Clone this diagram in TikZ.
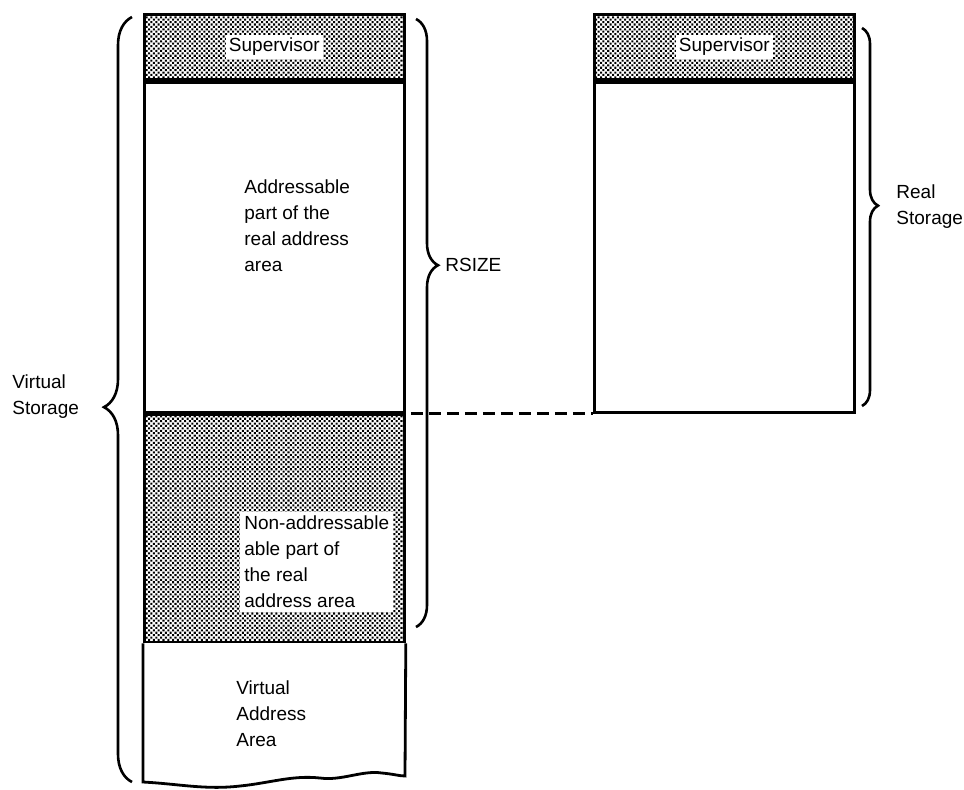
\documentclass[tikz,border=0pt]{standalone}
\usepackage{fontspec}
\setmainfont{Liberation Sans}
\usepackage{tikz}
\usetikzlibrary{patterns.meta,decorations.pathreplacing}

\begin{document}
\begin{tikzpicture}[x=0.5pt, y=-0.5pt,
        every node/.style={font=\fontsize{9.5pt}{13pt}\selectfont},
        box/.style={draw, line width=1.4pt, minimum width=130pt, inner sep=0pt},
        shaded/.style={box, pattern={Dots[distance=1.7pt, radius=0.72pt, angle=45]}},
        lbl/.style={fill=white, inner sep=1.5pt},
        area/.style={align=left, anchor=west, inner sep=0pt},
        curly/.style={line width=1.3pt, decorate, decoration={brace, amplitude=#1}},
        connector/.style={line width=1.2pt, dash pattern=on 6pt off 3pt, shorten <=2.5pt}]
                \useasboundingbox (0,0) rectangle (964,789);

                % Left column: virtual storage
                \node[shaded, minimum height=32.5pt, anchor=north west] (sup1) at (143,13) {};
                \node[lbl] (suplbl1) at (sup1.center) {Supervisor};
                \node[box, minimum height=165pt, anchor=north] (addr) at (sup1.south) {};
                \node[shaded, minimum height=113.5pt, anchor=north] (nonaddr) at (addr.south) {};
                % Virtual address area with torn bottom edge
                \draw[line width=1.4pt] (nonaddr.south west) -- (143,782)
                        .. controls (180,784) and (205,790) .. (240,786)
                        .. controls (270,783) and (292,775) .. (320,778)
                        .. controls (342,781) and (362,770) .. (382,773)
                        .. controls (393,774) and (400,776) .. (405,776)
                        -- (nonaddr.south east);

                \node[area] (addrtxt) at (244,226) {Addressable\\part of the\\real address\\area};
                \node[area, fill=white, inner sep=2pt] (nonaddrtxt) at (240,562) {Non-addressable\\able part of\\the real\\address area};
                \node[area] (virttxt) at (236,714) {Virtual\\Address\\Area};

                % Right column: real storage
                \node[shaded, minimum height=32.5pt, anchor=north west] (sup2) at (593,13) {};
                \node[lbl] (suplbl2) at (sup2.center) {Supervisor};
                \node[box, minimum height=165pt, anchor=north] (real) at (sup2.south) {};

                % Braces
                \draw[curly=14pt, decoration={aspect=0.49}] (132,782) -- (132,17); % virtual storage
                \node[area] (vstor) at (12,397) {Virtual\\Storage};
                \draw[curly=11pt, decoration={aspect=0.405}] (416,19) -- (416,627); % RSIZE
                \node[area] (rsize) at (445,265) {RSIZE};
                \draw[curly=8pt, decoration={aspect=0.47}] (862,28) -- (862,406); % real storage
                \node[area] (rstor) at (896,207) {Real\\Storage};

                % Boundary of real storage
                \draw[connector] (addr.south east) -- (real.south west);
\end{tikzpicture}
\end{document}
